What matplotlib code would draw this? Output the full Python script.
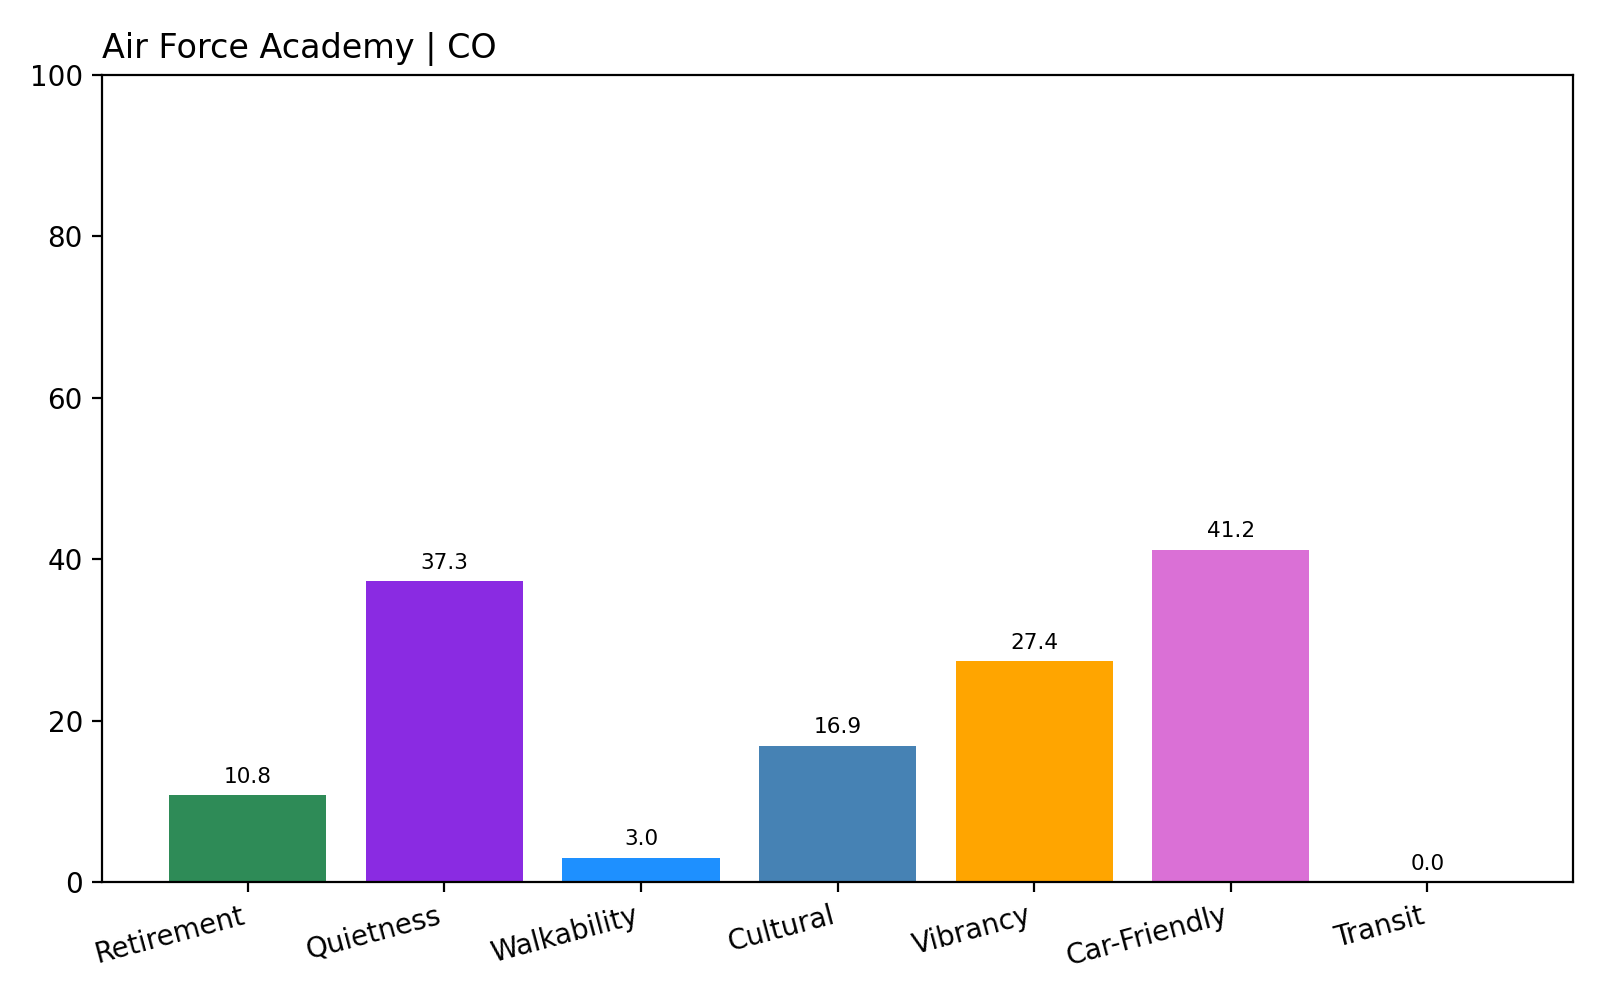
import matplotlib
matplotlib.use('Agg')
import matplotlib.pyplot as plt

title = 'Air Force Academy | CO'
categories = ['Retirement', 'Quietness', 'Walkability', 'Cultural',
              'Vibrancy', 'Car-Friendly', 'Transit']
scores = [10.8, 37.3, 3.0, 16.9, 27.4, 41.2, 0.0]
colors = ['seagreen', 'blueviolet', 'dodgerblue', 'steelblue',
          'orange', 'orchid', 'slategray']

fig, ax = plt.subplots(figsize=(8, 5), dpi=200)
fig.subplots_adjust(left=0.064, right=0.983, top=0.925, bottom=0.118)

bars = ax.bar(categories, scores, color=colors)
ax.bar_label(bars, labels=[f'{v:.1f}' for v in scores], padding=3, fontsize=7.8)

ax.set_ylim(0, 100)
ax.set_title(title, loc='left', fontsize=12)
ax.tick_params(axis='both', labelsize=10)
plt.setp(ax.get_xticklabels(), rotation=15, ha='right')

fig.savefig('out.png')
